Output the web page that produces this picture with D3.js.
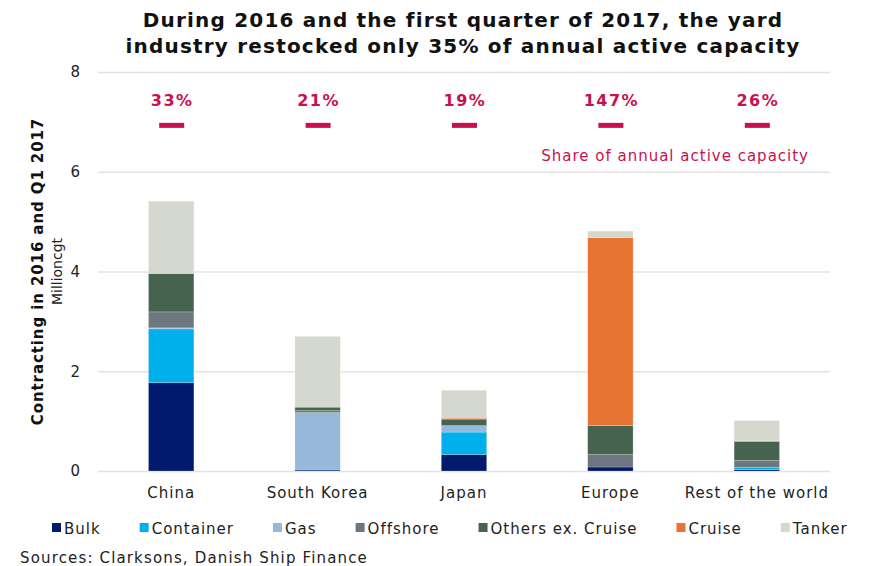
<!DOCTYPE html>
<html>
<head>
<meta charset="utf-8">
<script src="https://cdn.jsdelivr.net/npm/d3@7"></script>
<style>
  body{margin:0;background:#fff;}
  text{font-family:"DejaVu Sans",sans-serif;}
</style>
</head>
<body>
<div id="stage"></div>
<script>

// data (million cgt)
var regions=["China","South Korea","Japan","Europe","Rest of the world"];
var seriesNames=["Bulk","Container","Gas","Offshore","Others ex. Cruise","Cruise","Tanker"];
var bulk=     [1.77, 0.02, 0.33, 0.08, 0.03];
var container=[1.08, 0.00, 0.45, 0.00, 0.04];
var gas=      [0.02, 1.15, 0.13, 0.00, 0.00];
var offshore= [0.32, 0.04, 0.00, 0.25, 0.14];
var others=   [0.77, 0.07, 0.13, 0.58, 0.38];
var cruise=   [0.00, 0.00, 0.02, 3.77, 0.02];
var tanker=   [1.45, 1.42, 0.56, 0.13, 0.40];
var shares=   [33, 21, 19, 147, 26];
var shareLevel=6.93;
var yTicks=[0,2,4,6,8];

var colours=["#001a6e","#00b0ea","#97b9d9","#6e7780","#466350","#e87434","#d5d8ce"];

var W=875, H=566;
var m={top:72, left:98, right:45, bottom:95};

var table=regions.map(function(r,i){
  return {region:r, Bulk:bulk[i], Container:container[i], Gas:gas[i], Offshore:offshore[i],
    "Others ex. Cruise":others[i], Cruise:cruise[i], Tanker:tanker[i]};
});

var svg=d3.select("#stage").append("svg")
  .attr("width",W).attr("height",H);

var x=d3.scaleBand().domain(regions).range([m.left, W-m.right]).paddingInner(0.69).paddingOuter(0.345);
var y=d3.scaleLinear().domain([0,8]).range([H-m.bottom, m.top]);

// grid
svg.append("g").selectAll("line").data(yTicks).enter().append("line")
  .attr("x1",m.left).attr("x2",W-m.right)
  .attr("y1",function(d){return y(d)+0.5}).attr("y2",function(d){return y(d)+0.5})
  .attr("stroke","#e3e3e3").attr("stroke-width",1.3);

// y axis labels
var yAxis=d3.axisLeft(y).tickValues(yTicks).tickSize(0).tickPadding(14);
var ga=svg.append("g").attr("transform","translate("+(m.left-4)+",0)").call(yAxis);
ga.select(".domain").remove();
ga.selectAll("text").attr("font-size",15).attr("fill","#222").style("font-family","DejaVu Sans");

// stacked bars
var stack=d3.stack().keys(seriesNames)(table);
svg.append("g").selectAll("g").data(stack).enter().append("g")
  .attr("fill",function(d,i){return colours[i]})
  .selectAll("rect").data(function(d){return d}).enter().append("rect")
  .attr("x",function(d){return x(d.data.region)})
  .attr("width",x.bandwidth())
  .attr("y",function(d){return y(d[1])})
  .attr("height",function(d){return Math.max(0,y(d[0])-y(d[1]))})
  .attr("stroke","#fff").attr("stroke-opacity",0.35).attr("stroke-width",0.6);

// category axis
var xAxis=d3.axisBottom(x).tickSize(0).tickPadding(16);
var gx=svg.append("g").attr("transform","translate(0,"+y(0)+")").call(xAxis);
gx.select(".domain").remove();
gx.selectAll("text").attr("font-size",15).attr("fill","#222")
  .style("font-family","DejaVu Sans").style("letter-spacing","1px");

// share of capacity markers
var mk=svg.append("g");
mk.selectAll("rect").data(shares).enter().append("rect")
  .attr("x",function(d,i){return x(regions[i])+x.bandwidth()/2-12})
  .attr("y",y(shareLevel)-2.5).attr("width",25).attr("height",5)
  .attr("fill","#c8104e");
mk.selectAll("text").data(shares).enter().append("text")
  .attr("x",function(d,i){return x(regions[i])+x.bandwidth()/2+1})
  .attr("y",y(shareLevel)-19)
  .attr("text-anchor","middle").attr("font-size",16).attr("font-weight","bold")
  .style("letter-spacing","1.5px")
  .attr("fill","#c8104e").text(function(d){return d+"%"});
svg.append("text").attr("x",W-m.right-21).attr("y",161).attr("text-anchor","end")
  .attr("font-size",15).style("letter-spacing","1px").attr("fill","#c8104e").text("Share of annual active capacity");

// title
var title=["During 2016 and the first quarter of 2017, the yard","industry restocked only 35% of annual active capacity"];
svg.append("g").selectAll("text").data(title).enter().append("text")
  .attr("x",463).attr("y",function(d,i){return 27+i*26})
  .attr("text-anchor","middle").attr("font-size",20).attr("font-weight","bold")
  .style("letter-spacing","1.2px")
  .attr("fill","#111").text(function(d){return d});

// y titles
var cy=(y(0)+y(8))/2;
svg.append("text").attr("transform","translate(43,"+cy+") rotate(-90)")
  .attr("text-anchor","middle").attr("font-size",15).attr("font-weight","bold").attr("fill","#111")
  .style("letter-spacing","0.9px")
  .text("Contracting in 2016 and Q1 2017");
svg.append("text").attr("transform","translate(62,"+cy+") rotate(-90)")
  .attr("text-anchor","middle").attr("font-size",14).attr("fill","#222")
  .text("Millioncgt");

// legend
var lg=svg.append("g").attr("transform","translate(52,534)");
var lx=0;
seriesNames.forEach(function(s,i){
  var it=lg.append("g").attr("transform","translate("+lx+",0)");
  it.append("rect").attr("x",0).attr("y",-11).attr("width",9).attr("height",9).attr("fill",colours[i]);
  var t=it.append("text").attr("x",12).attr("y",0).attr("font-size",15)
    .style("letter-spacing","1px").attr("fill","#222").text(s);
  lx+=12+t.node().getComputedTextLength()+39;
});

svg.append("text").attr("x",20).attr("y",563).attr("font-size",15).attr("fill","#222")
  .style("letter-spacing","1.15px")
  .text("Sources: Clarksons, Danish Ship Finance");

</script>
</body>
</html>
